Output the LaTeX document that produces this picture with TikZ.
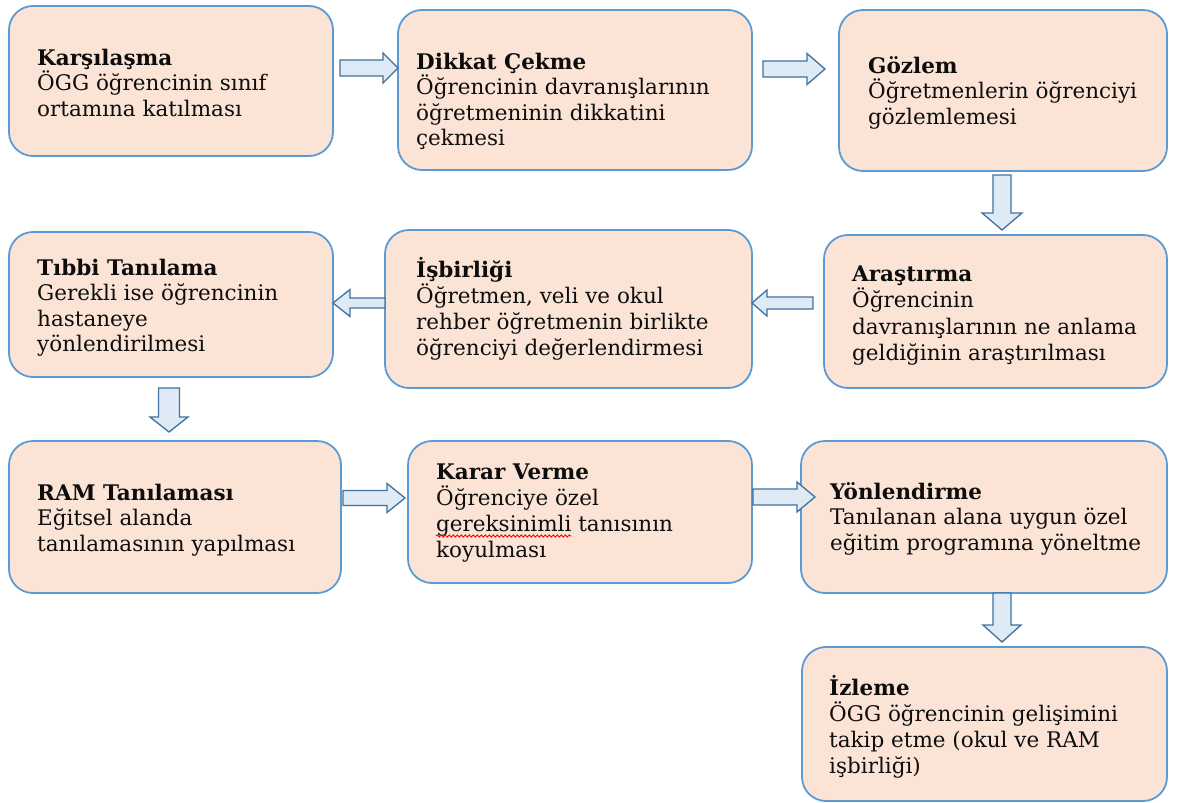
\documentclass[tikz,border=0pt]{standalone}
\usepackage{fontspec}
\setmainfont{DejaVu Serif}
\usetikzlibrary{calc,decorations.pathmorphing}
\definecolor{boxfill}{HTML}{FBE4D5}
\definecolor{boxline}{HTML}{5B9BD5}
\definecolor{arrfill}{HTML}{DEEBF7}
\definecolor{arrline}{HTML}{41719C}
\newlength\gwid
% block arrows: #1 start, #2 tip, #3 shaft half width, #4 head half width, #5 head length
\newcommand\arrR[5]{\draw[blk] ($(#1)+(0,-#3)$) -- ($(#2)+(-#5,-#3)$) -- ($(#2)+(-#5,-#4)$) -- (#2) -- ($(#2)+(-#5,#4)$) -- ($(#2)+(-#5,#3)$) -- ($(#1)+(0,#3)$) -- cycle;}
\newcommand\arrL[5]{\draw[blk] ($(#1)+(0,-#3)$) -- ($(#2)+(#5,-#3)$) -- ($(#2)+(#5,-#4)$) -- (#2) -- ($(#2)+(#5,#4)$) -- ($(#2)+(#5,#3)$) -- ($(#1)+(0,#3)$) -- cycle;}
\newcommand\arrD[5]{\draw[blk] ($(#1)+(-#3,0)$) -- ($(#2)+(-#3,-#5)$) -- ($(#2)+(-#4,-#5)$) -- (#2) -- ($(#2)+(#4,-#5)$) -- ($(#2)+(#3,-#5)$) -- ($(#1)+(#3,0)$) -- cycle;}
\newcommand\bodyfont{\fontsize{21.5}{25.5}\selectfont}
\begin{document}
\settowidth\gwid{\bodyfont gereksinimli}%
\begin{tikzpicture}[x=1pt,y=-1pt,
  box/.style={draw=boxline, line width=1.8pt, fill=boxfill, rounded corners=24pt, inner sep=0pt},
  txt/.style={anchor=north west, align=left, inner sep=0pt, font=\bodyfont, text=black!95},
  blk/.style={draw=arrline, line width=1.3pt, fill=arrfill, line join=miter}]
\fill[white] (0,0) rectangle (1179,803);
\useasboundingbox (0,0) rectangle (1179,803);
% boxes
\node[box, minimum width=324pt, minimum height=150pt] (b1) at (171,81) {};
\node[box, minimum width=354pt, minimum height=160pt] (b2) at (575,90) {};
\node[box, minimum width=328pt, minimum height=161pt] (b3) at (1003,90.5) {};
\node[box, minimum width=343pt, minimum height=153pt] (b4) at (995.5,311.5) {};
\node[box, minimum width=367pt, minimum height=158pt] (b5) at (568.5,309) {};
\node[box, minimum width=324pt, minimum height=145pt] (b6) at (171,304.5) {};
\node[box, minimum width=332pt, minimum height=152pt] (b7) at (175,517) {};
\node[box, minimum width=344pt, minimum height=142pt] (b8) at (580,512) {};
\node[box, minimum width=366pt, minimum height=152pt] (b9) at (984,517) {};
\node[box, minimum width=365pt, minimum height=154pt] (b10) at (984.5,724) {};
% texts
\node[txt] (t1) at (37,45) {\rule{0pt}{20pt}\textbf{Karşılaşma}\\ÖGG öğrencinin sınıf\\ortamına katılması};
\node[txt] (t2) at (416,49) {\rule{0pt}{20pt}\textbf{Dikkat Çekme}\\Öğrencinin davranışlarının\\öğretmeninin dikkatini\\çekmesi};
\node[txt] (t3) at (868,53) {\rule{0pt}{20pt}\textbf{Gözlem}\\Öğretmenlerin öğrenciyi\\gözlemlemesi};
\node[txt, font=\fontsize{21.5}{26.5}\selectfont] (t4) at (852,261) {\rule{0pt}{20pt}\textbf{Araştırma}\\Öğrencinin\\davranışlarının ne anlama\\geldiğinin araştırılması};
\node[txt, font=\fontsize{21.5}{26}\selectfont] (t5) at (416,257) {\rule{0pt}{20pt}\textbf{İşbirliği}\\Öğretmen, veli ve okul\\rehber öğretmenin birlikte\\öğrenciyi değerlendirmesi};
\node[txt] (t6) at (37,255) {\rule{0pt}{20pt}\textbf{Tıbbi Tanılama}\\Gerekli ise öğrencinin\\hastaneye\\yönlendirilmesi};
\node[txt] (t7) at (37,480) {\rule{0pt}{20pt}\textbf{RAM Tanılaması}\\Eğitsel alanda\\tanılamasının yapılması};
\node[txt, font=\fontsize{21.5}{26}\selectfont] (t8) at (436,459) {\rule{0pt}{20pt}\textbf{Karar Verme}\\Öğrenciye özel\\gereksinimli tanısının\\koyulması};
\node[txt] (t9) at (830,479) {\rule{0pt}{20pt}\textbf{Yönlendirme}\\Tanılanan alana uygun özel\\eğitim programına yöneltme};
\node[txt, font=\fontsize{21.5}{26}\selectfont] (t10) at (829,675) {\rule{0pt}{20pt}\textbf{İzleme}\\ÖGG öğrencinin gelişimini\\takip etme (okul ve RAM\\işbirliği)};
% spell-check squiggle under "gereksinimli"
\coordinate (sq) at ($(t8.north west)+(0,77)$);
\coordinate (sqe) at ($(sq)+(\gwid,0pt)$);
\draw[red, line width=0.9pt, decorate, decoration={snake, amplitude=1.1pt, segment length=4pt}] (sq) -- (sqe);
% block arrow end points
\coordinate (a1s) at (340,68);   \coordinate (a1e) at (398,68);
\coordinate (a2s) at (763,69);   \coordinate (a2e) at (825,69);
\coordinate (a3s) at (1002,175); \coordinate (a3e) at (1002,230);
\coordinate (a4s) at (813,303);  \coordinate (a4e) at (752,303);
\coordinate (a5s) at (385,303);  \coordinate (a5e) at (333,303);
\coordinate (a6s) at (169,388);  \coordinate (a6e) at (169,432);
\coordinate (a7s) at (343,498);  \coordinate (a7e) at (405,498);
\coordinate (a8s) at (753,497);  \coordinate (a8e) at (815,497);
\coordinate (a9s) at (1002,593); \coordinate (a9e) at (1002,642);
\arrR{a1s}{a1e}{8}{15}{15}
\arrR{a2s}{a2e}{8}{15.5}{18}
\arrD{a3s}{a3e}{9}{20}{17}
\arrL{a4s}{a4e}{6}{13}{15}
\arrL{a5s}{a5e}{5}{13.5}{17}
\arrD{a6s}{a6e}{10.5}{19}{15}
\arrR{a7s}{a7e}{7.5}{14.5}{18}
\arrR{a8s}{a8e}{8}{15}{18}
\arrD{a9s}{a9e}{9}{19}{17}
\end{tikzpicture}
\end{document}
